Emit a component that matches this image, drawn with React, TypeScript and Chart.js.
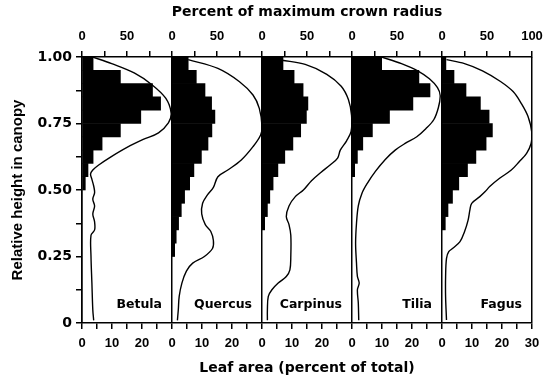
import React, { useEffect, useRef } from 'react';
import { Chart, registerables } from 'chart.js';

Chart.register(...registerables);

// ---------- data ----------
const species = ['Betula', 'Quercus', 'Carpinus', 'Tilia', 'Fagus'];

// each species sits in its own panel: leaf area axis 0-30 %, crown axis 0-100 %
const leafPanelSpan = 30;
const crownPanelSpan = 100;

// centres of the 0.05 height bins, from the top of the canopy down
const binHeights = [0.975, 0.925, 0.875, 0.825, 0.775, 0.725, 0.675, 0.625, 0.575, 0.525, 0.475, 0.425, 0.375, 0.325, 0.275];

// leaf area (percent of total) per height bin
const betulaLeaf = [3.7, 12.8, 23.5, 26.2, 19.6, 12.8, 6.7, 3.7, 2.0, 1.1];
const quercusLeaf = [5.4, 8.1, 11.0, 13.2, 14.3, 13.3, 12.0, 9.8, 7.3, 5.9, 4.2, 3.1, 2.2, 1.4, 0.9];
const carpinusLeaf = [7.0, 10.7, 13.7, 15.3, 14.8, 12.9, 10.3, 7.6, 5.3, 3.7, 2.6, 1.8, 0.9];
const tiliaLeaf = [9.9, 22.3, 26.0, 20.3, 12.5, 6.8, 3.6, 1.8, 0.9];
const fagusLeaf = [1.3, 4.0, 8.0, 12.8, 15.7, 16.8, 14.7, 11.3, 8.5, 5.6, 3.5, 2.0, 1.1];

// crown radius profile: [percent of maximum crown radius, relative height]
const betulaCrown: [number, number][] = [
  [12, 1.0], [33, 0.975], [58, 0.94], [78, 0.895], [93, 0.845], [99, 0.79], [96, 0.752], [85, 0.715],
  [68, 0.69], [50, 0.66], [30, 0.62], [19, 0.595], [12, 0.575], [9.5, 0.56], [11, 0.54], [13, 0.515],
  [14, 0.49], [12, 0.465], [14, 0.44], [12, 0.41], [14, 0.38], [14, 0.35], [10, 0.33], [10, 0.25],
  [11, 0.15], [12, 0.05], [13, 0.01],
];
const quercusCrown: [number, number][] = [
  [18, 0.99], [51, 0.957], [75, 0.907], [90, 0.857], [97, 0.807], [100, 0.74], [98.5, 0.707], [90, 0.663],
  [77, 0.613], [62, 0.575], [51, 0.55], [46, 0.51], [39, 0.48], [34, 0.45], [33, 0.41], [37, 0.37],
  [43, 0.345], [46, 0.31], [45, 0.28], [36, 0.25], [23, 0.225], [16, 0.195], [11, 0.15], [8, 0.1],
  [7, 0.05], [6, 0.01],
];
const carpinusCrown: [number, number][] = [
  [22, 0.988], [48, 0.972], [72, 0.935], [88, 0.89], [96, 0.84], [99.5, 0.78], [99, 0.72], [94, 0.685],
  [87, 0.65], [84, 0.62], [76, 0.595], [65, 0.565], [55, 0.535], [46, 0.5], [37, 0.475], [30, 0.44],
  [27, 0.4], [30, 0.37], [32, 0.33], [32, 0.25], [31, 0.2], [27, 0.175], [18, 0.15], [11, 0.125],
  [7, 0.1], [6, 0.05], [6, 0.01],
];
const tiliaCrown: [number, number][] = [
  [33, 1.0], [55, 0.975], [73, 0.948], [86, 0.918], [95, 0.885], [98, 0.855], [96, 0.81], [91, 0.765],
  [82, 0.73], [72, 0.7], [59, 0.675], [48, 0.65], [37, 0.615], [26, 0.57], [17, 0.525], [11, 0.487],
  [7, 0.44], [5, 0.375], [4, 0.3], [5, 0.225], [6, 0.175], [8, 0.15], [6, 0.125], [7, 0.075], [7.5, 0.01],
];
const fagusCrown: [number, number][] = [
  [5, 0.99], [25, 0.975], [45, 0.948], [65, 0.908], [79, 0.87], [88, 0.826], [95.6, 0.776], [100, 0.713],
  [99, 0.675], [94, 0.638], [86, 0.607], [77, 0.575], [64, 0.544], [53, 0.513], [48, 0.494], [42, 0.475],
  [33, 0.45], [31, 0.425], [29, 0.387], [25, 0.343], [20, 0.306], [12, 0.281], [7.5, 0.268], [5, 0.243],
  [4, 0.174], [4, 0.099], [5, 0.011],
];

const leafSeries = [betulaLeaf, quercusLeaf, carpinusLeaf, tiliaLeaf, fagusLeaf];
const crownSeries = [betulaCrown, quercusCrown, carpinusCrown, tiliaCrown, fagusCrown];

// tick labels
const heightTickLabels = ['0', '0.25', '0.50', '0.75', '1.00'];
const leafTickLabels = [0, 10, 20, 30];
const crownTickLabels = [0, 50, 100];

const BLACK = '#000000';
const tickFont = { family: '"Liberation Sans", Arial, sans-serif', size: 13, weight: 'bold' as const };
const titleFont = { family: '"DejaVu Sans", sans-serif', size: 14, weight: 'bold' as const };

const speciesLabelPlugin = {
  id: 'speciesLabels',
  afterDatasetsDraw(chart: any) {
    const ctx = chart.ctx;
    const xb = chart.scales.xb;
    ctx.save();
    ctx.font = 'bold 12.5px "DejaVu Sans", sans-serif';
    ctx.fillStyle = BLACK;
    ctx.textAlign = 'right';
    ctx.textBaseline = 'middle';
    species.forEach((name, i) => {
      const right = xb.getPixelForValue((i + 1) * leafPanelSpan);
      ctx.fillText(name, right - 10, chart.chartArea.bottom - 18);
    });
    ctx.restore();
  },
};

const panelLabel = (v: number, span: number, shown: number[], total: number) => {
  const r = Math.round(v - Math.floor(v / span + 1e-9) * span);
  if (Math.abs(v - total) < 1e-9) return String(span);
  return shown.includes(r) && r < span ? String(r) : '';
};

export default function App() {
  const ref = useRef<HTMLCanvasElement | null>(null);

  useEffect(() => {
    if (!ref.current) return;
    const n = species.length;
    const leafTotal = leafPanelSpan * n;
    const crownTotal = crownPanelSpan * n;

    const datasets: any[] = [];
    for (let i = 0; i < n; i++) {
      datasets.push({
        type: 'line',
        label: species[i] + ' crown radius',
        data: crownSeries[i].map(([p, h]) => ({ x: i * crownPanelSpan + p, y: h })),
        xAxisID: 'xt',
        yAxisID: 'y',
        borderColor: BLACK,
        borderWidth: 1.4,
        pointRadius: 0,
        tension: 0.35,
        fill: false,
        order: 0,
      });
      datasets.push({
        type: 'bar',
        label: species[i] + ' leaf area',
        indexAxis: 'y',
        data: leafSeries[i].map((v, k) => ({ x: [i * leafPanelSpan, i * leafPanelSpan + v], y: binHeights[k] })),
        xAxisID: 'xb',
        yAxisID: 'y',
        backgroundColor: BLACK,
        borderWidth: 0,
        borderSkipped: false,
        barPercentage: 1,
        categoryPercentage: 1,
        grouped: false,
        order: 1,
      });
    }

    const chart = new Chart(ref.current, {
      type: 'bar',
      data: { datasets },
      options: {
        responsive: false,
        animation: false,
        devicePixelRatio: 1,
        layout: { padding: { left: 0, right: 18, top: 0, bottom: 0 } },
        plugins: { legend: { display: false }, tooltip: { enabled: false } },
        scales: {
          y: {
            type: 'linear',
            axis: 'y',
            position: 'left',
            offset: false,
            min: 0,
            max: 1,
            ticks: {
              stepSize: 0.125,
              autoSkip: false,
              color: BLACK,
              padding: 4,
              font: { family: '"DejaVu Sans", sans-serif', size: 14, weight: 'bold' },
              callback: (v: number) => {
                const k = Math.round(v / 0.25);
                return Math.abs(v - k * 0.25) < 1e-6 ? heightTickLabels[k] : '';
              },
            },
            grid: { offset: false, drawOnChartArea: false, color: BLACK, tickLength: 6, lineWidth: 1.5 },
            border: { color: BLACK, width: 1.5 },
            title: {
              display: true,
              text: 'Relative height in canopy',
              color: BLACK,
              font: { family: '"Liberation Sans", Arial, sans-serif', size: 15, weight: 'bold' },
              padding: { top: 9, bottom: 0 },
            },
            afterFit: (s: any) => { s.width = 82; },
          },
          xb: {
            type: 'linear',
            axis: 'x',
            position: 'bottom',
            offset: false,
            min: 0,
            max: leafTotal,
            ticks: {
              stepSize: 5,
              autoSkip: false,
              maxRotation: 0,
              color: BLACK,
              padding: 7,
              font: tickFont,
              callback: (v: number) => panelLabel(v, leafPanelSpan, leafTickLabels, leafTotal),
            },
            grid: {
              offset: false,
              drawOnChartArea: true,
              color: (c: any) => (c.tick && Math.abs(c.tick.value % leafPanelSpan) < 1e-9 ? BLACK : 'rgba(0,0,0,0)'),
              tickColor: BLACK,
              tickLength: 6,
              lineWidth: 1.5,
            },
            border: { color: BLACK, width: 1.5 },
            title: {
              display: true,
              text: 'Leaf area (percent of total)',
              color: BLACK,
              font: titleFont,
              padding: { top: 0, bottom: 6 },
            },
            afterFit: (s: any) => { s.height = 60; },
          },
          xt: {
            type: 'linear',
            axis: 'x',
            position: 'top',
            offset: false,
            min: 0,
            max: crownTotal,
            ticks: {
              stepSize: 25,
              autoSkip: false,
              maxRotation: 0,
              color: BLACK,
              padding: 7,
              font: tickFont,
              callback: (v: number) => panelLabel(v, crownPanelSpan, crownTickLabels, crownTotal),
            },
            grid: { offset: false, drawOnChartArea: false, color: BLACK, tickLength: 6, lineWidth: 1.5 },
            border: { color: BLACK, width: 1.5 },
            title: {
              display: true,
              text: 'Percent of maximum crown radius',
              color: BLACK,
              font: titleFont,
              padding: { top: 4, bottom: 0 },
            },
            afterFit: (s: any) => { s.height = 57; },
          },
        },
      } as any,
      plugins: [speciesLabelPlugin],
    });
    return () => chart.destroy();
  }, []);

  return (
    <div style={{ position: 'fixed', left: 0, top: 0, width: 550, height: 383, background: '#ffffff' }}>
      <canvas ref={ref} width={550} height={383} />
    </div>
  );
}
